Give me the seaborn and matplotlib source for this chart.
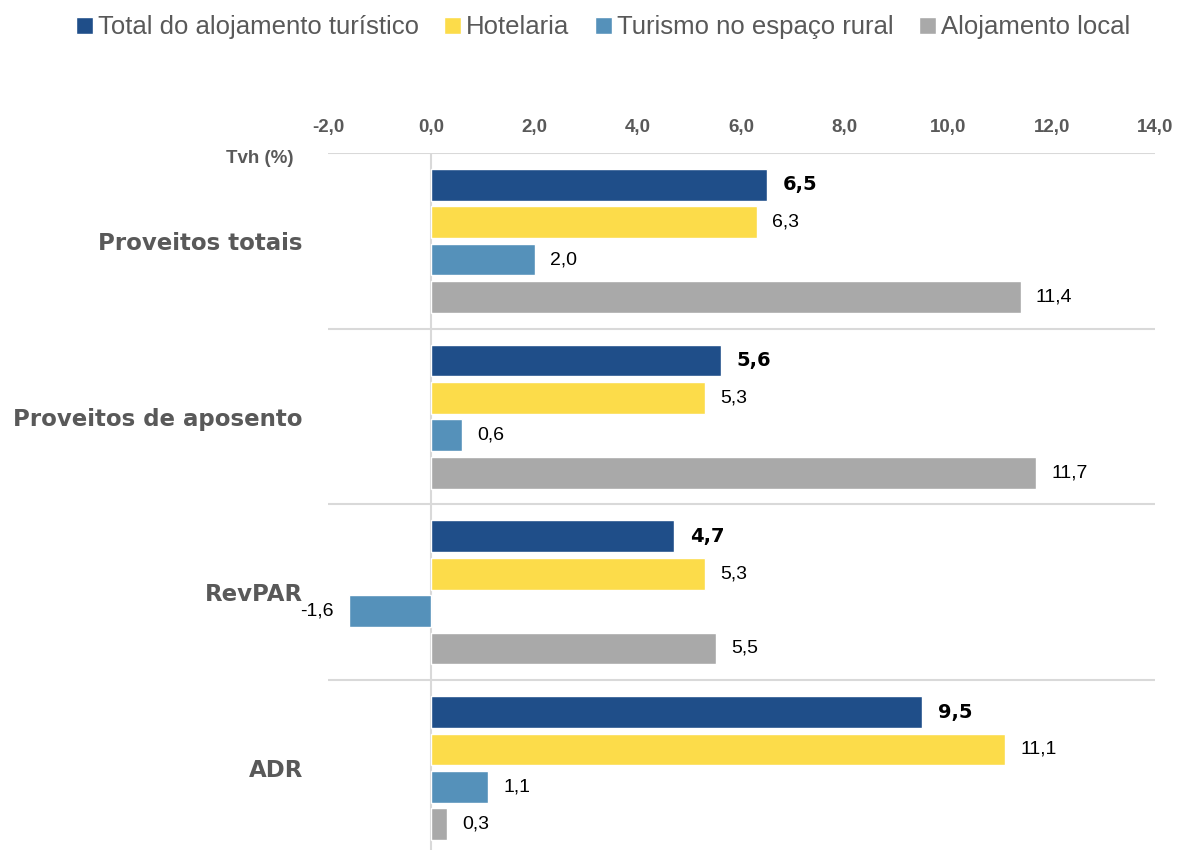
import matplotlib
matplotlib.use("Agg")
import matplotlib.pyplot as plt
import seaborn as sns
import pandas as pd
from matplotlib.ticker import FixedLocator, FuncFormatter

categories = ["Proveitos totais", "Proveitos de aposento", "RevPAR", "ADR"]
series = ["Total do alojamento turístico", "Hotelaria", "Turismo no espaço rural", "Alojamento local"]
total = [6.5, 5.6, 4.7, 9.5]
hotelaria = [6.3, 5.3, 5.3, 11.1]
rural = [2.0, 0.6, -1.6, 1.1]
local = [11.4, 11.7, 5.5, 0.3]
ticks = [-2, 0, 2, 4, 6, 8, 10, 12, 14]
colors = ["#1F4E89", "#FCDC4A", "#5591BA", "#A9A9A9"]

rows = []
for s, vals in zip(series, [total, hotelaria, rural, local]):
    for c, v in zip(categories, vals):
        rows.append({"cat": c, "serie": s, "val": v})
df = pd.DataFrame(rows)

sns.set_theme(style="white")
plt.rcParams['font.family'] = ['Liberation Sans', 'DejaVu Sans']

fig = plt.figure(figsize=(11.78, 8.5), dpi=100)
ax = fig.add_axes([0.2784, 0.0, 0.7021, 0.82])

sns.barplot(data=df, y="cat", x="val", hue="serie", order=categories, hue_order=series,
            palette=colors, orient="h", width=0.85, gap=0.15, ax=ax, errorbar=None,
            saturation=1)

handles, labels = ax.get_legend_handles_labels()
if ax.get_legend() is not None:
    ax.get_legend().remove()

ax.set_xlim(-2, 14)
ax.set_ylim(3.466, -0.5)
ax.xaxis.tick_top()
ax.xaxis.set_major_locator(FixedLocator(ticks))
ax.xaxis.set_major_formatter(FuncFormatter(lambda v, p: f"{v:.1f}".replace(".", ",")))
ax.tick_params(axis="x", length=0, pad=12, labelsize=13.5, labelcolor="#595959")
for t in ax.get_xticklabels():
    t.set_fontweight("bold")
ax.set_xlabel("")
ax.set_ylabel("")
ax.tick_params(axis="y", length=0, pad=18)
ax.set_yticks(range(len(categories)))
ax.set_yticklabels(categories, fontsize=16.5, fontweight="heavy", color="#595959",
                   family="DejaVu Sans")
for sp in ax.spines.values():
    sp.set_visible(False)

for yb in [-0.5, 0.5, 1.5, 2.5]:
    ax.axhline(yb, color="#D9D9D9", lw=1.5, zorder=0)
ax.axvline(0, color="#D9D9D9", lw=1.5, zorder=0)

for i, cont in enumerate(ax.containers):
    vals = [total, hotelaria, rural, local][i]
    labs = [f"{v:.1f}".replace(".", ",") for v in vals]
    if i == 0:
        ax.bar_label(cont, labels=labs, padding=11, fontsize=14, fontweight="heavy",
                     color="black", family="DejaVu Sans")
    else:
        ax.bar_label(cont, labels=labs, padding=11, fontsize=14, color="black")

fig.text(0.249, 0.813, "Tvh (%)", ha="right", va="center", fontsize=13.5,
         fontweight="bold", color="#595959")

fig.legend(handles, labels, loc="center", bbox_to_anchor=(0.512, 0.968), ncol=4,
           frameon=False, handlelength=0.65, handleheight=0.65,
           handletextpad=0.2, columnspacing=1.0, labelcolor="#595959",
           prop={"family": ["Liberation Sans"], "size": 18.5})

fig.savefig("out.png", dpi=100)
